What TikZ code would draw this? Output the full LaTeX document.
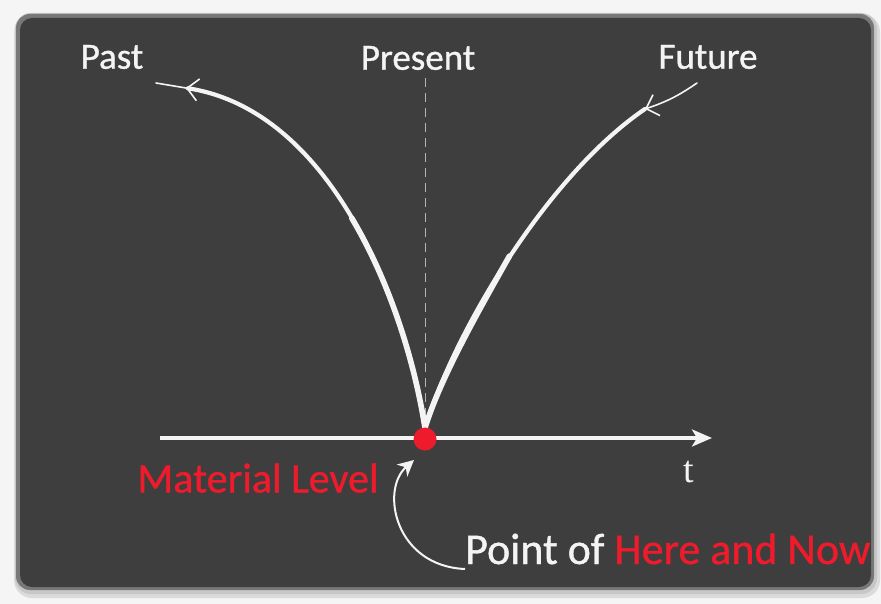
\documentclass[tikz,border=0pt]{standalone}
\usepackage{fontspec}
\setmainfont{Carlito}[FakeBold=0.9]
\newfontfamily\tfont{Liberation Serif}
\usetikzlibrary{arrows.meta}
\definecolor{board}{HTML}{3E3E3E}
\definecolor{chalkred}{HTML}{EE1B2C}
\definecolor{chalk}{HTML}{F4F4F4}
\tikzset{
  lbl/.style={text=chalk, font=\fontsize{37}{40}\selectfont, inner sep=0pt},
  redlbl/.style={text=chalkred, font=\fontsize{42}{46}\selectfont, inner sep=0pt},
  thickchalk/.style={draw=chalk, line width=4.2pt, line cap=round},
  heavychalk/.style={draw=chalk, line width=5.6pt, line cap=round},
  thinchalk/.style={draw=chalk, line width=1.6pt, line cap=round},
  axisline/.style={draw=chalk, line width=3.5pt},
  guide/.style={draw=chalk!65!board, line width=1pt, dash pattern=on 9pt off 6pt},
  barb/.style={-{Straight Barb[length=11pt,width=22pt,line width=1.6pt]}},
}
\begin{document}
\begin{tikzpicture}[x=1pt,y=-1pt]
\useasboundingbox (0,0) rectangle (881,604);
\fill[black!4] (0,0) rectangle (881,604);
\fill[black!14, rounded corners=18pt] (14,14) rectangle (880,598);
\fill[black!22, rounded corners=16pt] (15,13) rectangle (877,594);
\fill[board!70!white, rounded corners=14pt] (16,14) rectangle (874,590);
\fill[board, rounded corners=12pt] (20,18) rectangle (871,587);

% labels
\node[lbl] (past) at (112,57) {Past};
\node[lbl] (present) at (418,58) {Present};
\node[lbl] (future) at (708,57) {Future};

% key points
\coordinate (v) at (425,428);
\coordinate (guideTop) at (425,78);
\coordinate (pastTip) at (186,88);
\coordinate (pastEnd) at (156,83);
\coordinate (futTip) at (645,109);
\coordinate (futEnd) at (697,83);
\coordinate (axL) at (160,438);
\coordinate (axR) at (712,438);
\coordinate (pastMid) at (351.75,218.1);
\coordinate (futMid) at (509.4,256.1);

% dashed present line
\draw[guide] (guideTop) -- (v);

% past branch (heavier near the vertex)
\draw[thickchalk, barb] (v) .. controls (405,300) and (330,110) .. (pastTip);
\draw[heavychalk] (v) .. controls (415,364) and (391.25,284.5) .. (pastMid);
\draw[thinchalk] (pastTip) -- (pastEnd);

% future branch (heavier near the vertex)
\draw[thickchalk] (v) .. controls (455,330) and (548,175) .. (futTip);
\draw[heavychalk] (v) .. controls (440,379) and (476.25,314.75) .. (futMid);
\draw[thinchalk, barb] (futEnd) to[bend left=8] (futTip);

% axis
\draw[axisline, -{Stealth[length=20pt,width=17pt,inset=5pt]}] (axL) -- (axR);
\node[fill=chalkred, circle, minimum size=23pt, inner sep=0pt] (now) at (425,439) {};

\node[text=chalk, font=\tfont\fontsize{38}{40}\selectfont, inner sep=0pt] (t) at (689,472) {t};
\node[redlbl] (mat) at (258,478) {Material Level};

\node[text=chalk, font=\fontsize{44}{46}\selectfont, inner sep=0pt, anchor=base west] (point) at (465,564)
  {Point of \textcolor{chalkred}{Here and Now}};

\draw[draw=chalk, line width=2pt, -{Stealth[length=16pt,width=16pt,inset=5pt]}]
  (point.west |- 0,569) .. controls (395,566) and (380,490) .. (414,460);
\end{tikzpicture}
\end{document}
